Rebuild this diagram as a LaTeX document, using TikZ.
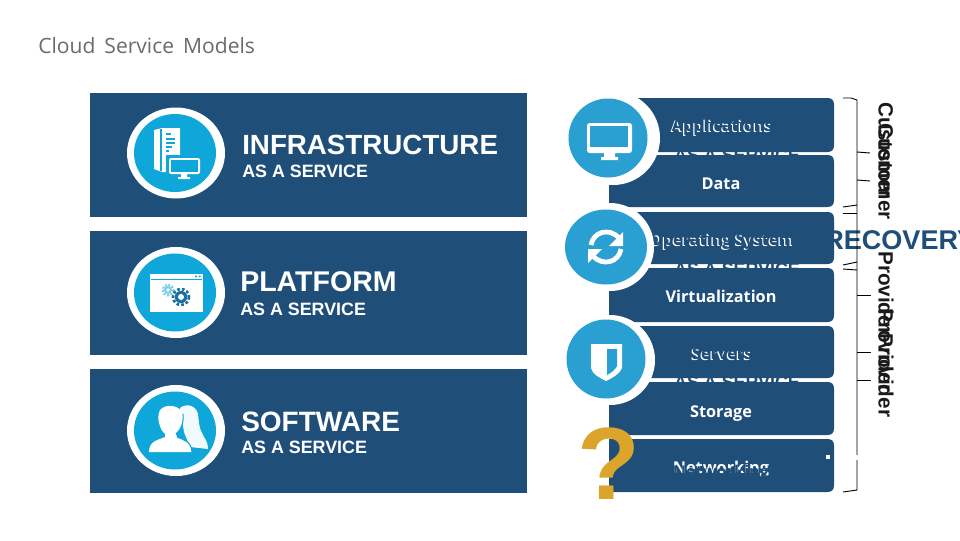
\documentclass[tikz,border=0pt]{standalone}
\usepackage{fontspec}
\setmainfont{Liberation Sans}
\newfontfamily\titlefont{Open Sans}
\newfontfamily\boxfont{Open Sans}
\definecolor{navy}{HTML}{1F4E79}
\definecolor{skyA}{HTML}{0FA6DA}
\definecolor{skyB}{HTML}{2A9FD2}
\definecolor{gold}{HTML}{DBA52B}
\definecolor{ink}{HTML}{1A1A1A}
\tikzset{
  panel/.style={fill=navy,draw=none},
  bigtxt/.style={anchor=base west,inner sep=0pt,font=\bfseries\fontsize{21pt}{24pt}\selectfont,text=white},
  subtxt/.style={anchor=base west,inner sep=0pt,font=\bfseries\fontsize{13.4pt}{16pt}\selectfont,text=white},
  boxtxt/.style={anchor=base,inner sep=0pt,font=\boxfont\bfseries\fontsize{12.2pt}{15pt}\selectfont,text=white},
  hidetxt/.style={boxtxt,text=navy},
  undertxt/.style={anchor=base,inner sep=0pt,font=\bfseries\fontsize{13.4pt}{16pt}\selectfont,text=navy},
  sidetxt/.style={anchor=base west,rotate=-90,inner sep=0pt,font=\bfseries\fontsize{15.5pt}{18pt}\selectfont,text=ink},
  brk/.style={draw=black,line width=0.7pt},
}
\newcommand{\rowbox}[2]{\fill[navy] (609,#1) -- (827,#1) .. controls (832,#1) and (834,#1+2) .. (834,#1+7) -- (834,#2-7) .. controls (834,#2-2) and (832,#2) .. (827,#2) -- (609,#2) -- cycle;}
\begin{document}
\begin{tikzpicture}[x=0.75pt,y=-0.75pt]
\useasboundingbox (0,0) rectangle (960,540);
\fill[white] (0,0) rectangle (960,540);
\node[anchor=base west,inner sep=0pt,text=black!58,font=\titlefont\fontsize{15.8pt}{18pt}\selectfont] (title) at (38,53) {Cloud\, Service\, Models};

% left panels
\fill[panel] (90,93) rectangle (527,217);
\fill[panel] (90,231) rectangle (527,355);
\fill[panel] (90,369) rectangle (527,493);

% text lying under the stack
\node[anchor=base west,inner sep=0pt,text=navy,font=\bfseries\fontsize{20.3pt}{24pt}\selectfont] (rec) at (824,249) {RECOVERY};
\node[undertxt] (h1) at (737,161) {AS A SERVICE};
\node[undertxt] (h2) at (737,275) {AS A SERVICE};
\node[undertxt] (h3) at (737,388) {AS A SERVICE};

% panel circles
\foreach \cy in {153,292.5,430.5}{
  \fill[white] (176,\cy) ellipse [x radius=49,y radius=45.5];
  \fill[skyA] (175,\cy) ellipse [x radius=41,y radius=39];
}
% infrastructure icon
\fill[white] (154,130) -- (162,128) -- (180,128) -- (180,172) -- (162,172) -- (154,169) -- cycle;
\draw[skyA,line width=0.8pt] (161,129) -- (161,171);
\draw[skyA,line width=1pt] (166,134) -- (171,134) (166,139) -- (175,139) (166,143) -- (175,143) (166,147) -- (172,147) (166,151) -- (169,151);
\fill[skyA] (166,155) rectangle (203,180);
\fill[white,rounded corners=1.5pt] (169,158) rectangle (200,174);
\fill[skyA] (171,160) rectangle (198,172);
\fill[white] (181,174) rectangle (187,177) (178,177) rectangle (190,179);
% platform icon
\fill[white] (150,274) rectangle (203,312);
\fill[skyA] (151,278.5) rectangle (202,279.3);
\fill[skyA] (195,275.5) rectangle (197,277) (198.5,275.5) rectangle (200.5,277);
\fill[skyA!55] (168,290) circle [radius=4];
\draw[skyA!55,line width=1.6pt,dash pattern=on 1.5pt off 1.2pt] (168,290) circle [radius=5.4];
\fill[white] (168,290) circle [radius=1.8];
\fill[navy!60!skyA] (181,297) circle [radius=6.2];
\draw[navy!60!skyA,line width=2pt,dash pattern=on 2pt off 1.6pt] (181,297) circle [radius=8];
\fill[white] (181,297) circle [radius=3];
% software icon
\fill[white!94!skyA] (180,408) .. controls (186,403) and (196,405) .. (198,414) .. controls (199,422) and (199,428) .. (202,433) .. controls (204,438) and (208,441) .. (208,449) -- (190,447) -- (184,432) -- cycle;
\fill[white] (160,410) .. controls (166,403) and (180,405) .. (183,414) .. controls (184,422) and (181,430) .. (176,434) -- (177,437) .. controls (184,440) and (191,441) .. (192,452) -- (149,452) .. controls (149,441) and (158,440) .. (165,437) -- (165,434) .. controls (160,430) and (156,418) .. (160,410) -- cycle;
\draw[skyA,line width=0.8pt] (183,414) .. controls (184,422) and (181,430) .. (176,434) (177,437) .. controls (184,440) and (191,441) .. (192,452);

% panel text
\node[bigtxt,font=\bfseries\fontsize{20.8pt}{24pt}\selectfont] (t1) at (242,154) {INFRASTRUCTURE};
\node[subtxt] (s1) at (242,177) {AS A SERVICE};
\node[bigtxt,font=\bfseries\fontsize{21.4pt}{24pt}\selectfont] (t2) at (240,291) {PLATFORM};
\node[subtxt] (s2) at (240,315) {AS A SERVICE};
\node[bigtxt] (t3) at (241,431) {SOFTWARE};
\node[subtxt] (s3) at (241,453) {AS A SERVICE};

% stack
\rowbox{98}{152}
\rowbox{155}{207}
\rowbox{212}{264}
\rowbox{268}{322}
\rowbox{326}{378}
\rowbox{382}{435}
\rowbox{439}{492}
\node[boxtxt] (b1) at (721,132) {Applications};
\node[hidetxt] (b1x) at (722.2,131.2) {Applications};
\node[boxtxt] (b2) at (721,189) {Data};
\node[boxtxt] (b3) at (721,246) {Operating System};
\node[hidetxt] (b3x) at (722.2,245.2) {Operating System};
\node[boxtxt] (b4) at (721,302) {Virtualization};
\node[boxtxt] (b5) at (721,360) {Servers};
\node[hidetxt] (b5x) at (722.2,359.2) {Servers};
\node[boxtxt] (b6) at (721,417) {Storage};
\node[boxtxt] (b7) at (721,473) {Networking};
\node[hidetxt] (b7x) at (721,477) {Networking};
\fill[white] (826,455) rectangle (830,459);

% round badges
\fill[white] (613,138) circle [radius=47];
\fill[skyB] (608,138) circle [radius=39.5];
\fill[white] (610,247) circle [radius=44];
\fill[skyB] (606,247) ellipse [x radius=41,y radius=37.5];
\fill[white] (610,360) circle [radius=45];
\fill[skyB] (606,359) circle [radius=39.5];
% monitor
\fill[white,rounded corners=2pt] (587,123) rectangle (632,153);
\fill[skyB] (590,126) rectangle (628,147);
\fill[white] (604,153) rectangle (615,157) (601,157) rectangle (618,160);
% refresh
\draw[white,line width=3.6pt] (591,245) .. controls (593,232) and (609,227) .. (619,238);
\fill[white] (623,232) -- (623,246) -- (609,246) -- cycle;
\draw[white,line width=3.6pt] (621,249) .. controls (619,262) and (603,267) .. (593,256);
\fill[white] (588,263) -- (588,249) -- (602,249) -- cycle;
% shield
\fill[white] (591,344) -- (622,344) -- (622,368) .. controls (620,374) and (612,378) .. (606,381) .. controls (600,378) and (592,374) .. (591,368) -- cycle;
\fill[skyB] (607,349) -- (617,349) -- (617,366) .. controls (615,370) and (611,373) .. (607,375) -- cycle;
% question mark
\node[anchor=base,inner sep=0pt,text=gold,font=\bfseries\fontsize{77pt}{80pt}\selectfont] (q) at (609,499) {?};

% bracket
\draw[brk] (843,98) -- (851,98) -- (857,100) -- (857,455);
\draw[brk] (857,460) -- (857,490) -- (850,491) -- (843,492);
\draw[brk] (857,152) -- (870,153);
\draw[brk] (857,180) -- (870,181);
\draw[brk] (843,207) -- (857,205);
\draw[brk] (843,213) -- (857,213);
\draw[brk] (843,265) -- (857,262);
\draw[brk] (843,269) -- (857,270);
\draw[brk] (857,295) -- (871,295);
\draw[brk] (857,352) -- (871,352);
\draw[brk] (857,380) -- (871,380);

% side labels
\node[sidetxt] (c1) at (878.5,102) {Customer};
\node[sidetxt] (c2) at (878.5,123) {Customer};
\node[sidetxt] (p1) at (878.5,251) {Provider};
\node[sidetxt] (p2) at (878.5,308) {Provider};
\node[sidetxt] (p3) at (878.5,333) {Provider};
\end{tikzpicture}
\end{document}
